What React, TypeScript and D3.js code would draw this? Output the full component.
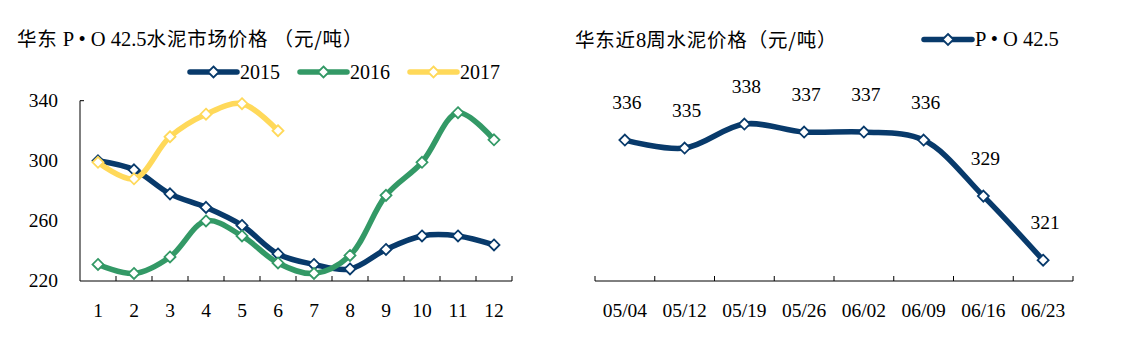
import { useEffect, useRef } from "react"
import * as d3 from "d3"

const months = ["1", "2", "3", "4", "5", "6", "7", "8", "9", "10", "11", "12"]
const y2015 = [300, 294, 278, 269, 257, 238, 231, 228, 241, 250, 250, 244]
const y2016 = [231, 225, 236, 260, 250, 232, 225, 237, 277, 299, 332, 314]
const y2017 = [299, 288, 316, 331, 338, 320]
const yTicks = [220, 260, 300, 340]

const weeks = ["05/04", "05/12", "05/19", "05/26", "06/02", "06/09", "06/16", "06/23"]
const weekly = [336, 335, 338, 337, 337, 336, 329, 321]

const NAVY = "#083a6b"
const GREEN = "#339966"
const YELLOW = "#ffd95a"
const FONT = "'Liberation Serif', 'Times New Roman', serif"
const CJK = "'Noto Sans CJK SC', sans-serif"

export default function App() {
  const ref = useRef<SVGSVGElement>(null)
  useEffect(() => {
    if (!ref.current) return
    const svg = d3.select(ref.current)
    svg.selectAll("*").remove()

    const diamond = (g: any, cx: number, cy: number, color: string) =>
      g.append("path").attr("d", `M${cx},${cy - 5.5}L${cx + 5.5},${cy}L${cx},${cy + 5.5}L${cx - 5.5},${cy}Z`)
        .attr("fill", "#fff").attr("stroke", color).attr("stroke-width", 1.8)

    // mixed title: [text, isLatin]
    const title = (g: any, x: number, y: number, parts: [string, boolean][]) => {
      const t = g.append("text").attr("x", x).attr("y", y)
      parts.forEach(([s, latin]) => t.append("tspan").style("font-family", latin ? FONT : CJK)
        .style("font-size", latin ? "20.5px" : "19.5px").style("letter-spacing", latin ? "0px" : "0.8px").text(s))
    }

    // ---------- left chart ----------
    const L = { left: 80, right: 512, top: 100.7, bottom: 281 }
    const x1 = d3.scaleBand().domain(months).range([L.left, L.right])
    const y1 = d3.scaleLinear().domain([220, 340]).range([L.bottom, L.top])
    const g1 = svg.append("g")

    title(g1, 17, 46, [["华东", false], ["\u00a0P • O 42.5", true], ["水泥市场价格 （元/吨）", false]])

    g1.append("path").attr("d", `M${L.left + 4},${L.top}H${L.left}V${L.bottom}H${L.right}`)
      .attr("fill", "none").attr("stroke", "#000").attr("stroke-width", 1)
    x1.domain().forEach(m => {
      const xx = (x1(m) as number) + x1.bandwidth()
      g1.append("line").attr("x1", xx).attr("x2", xx).attr("y1", L.bottom).attr("y2", L.bottom - 5).attr("stroke", "#000")
      g1.append("text").attr("x", (x1(m) as number) + x1.bandwidth() / 2).attr("y", 317).attr("text-anchor", "middle")
        .style("font-family", FONT).style("font-size", "19.5px").text(m)
    })
    yTicks.forEach(t => {
      g1.append("text").attr("x", 58).attr("y", y1(t) + 6).attr("text-anchor", "end")
        .style("font-family", FONT).style("font-size", "19.5px").text(t)
    })

    const line1 = d3.line<number>().x((_, i) => (x1(months[i]) as number) + x1.bandwidth() / 2).y(d => y1(d))
      .curve(d3.curveCatmullRom.alpha(0.5))
    const series = [
      { name: "2015", vals: y2015, color: NAVY },
      { name: "2016", vals: y2016, color: GREEN },
      { name: "2017", vals: y2017, color: YELLOW },
    ]
    series.forEach(s => {
      g1.append("path").datum(s.vals).attr("d", line1).attr("fill", "none").attr("stroke", s.color)
        .attr("stroke-width", 5.5).attr("stroke-linejoin", "round")
    })
    series.forEach(s => {
      s.vals.forEach((v, i) => diamond(g1, (x1(months[i]) as number) + x1.bandwidth() / 2, y1(v), s.color))
    })

    // legend
    const legX = [190, 300, 410]
    series.forEach((s, i) => {
      g1.append("line").attr("x1", legX[i]).attr("x2", legX[i] + 47).attr("y1", 72).attr("y2", 72)
        .attr("stroke", s.color).attr("stroke-width", 5.5).attr("stroke-linecap", "round")
      diamond(g1, legX[i] + 23.5, 72, s.color)
      g1.append("text").attr("x", legX[i] + 50).attr("y", 79).style("font-family", FONT).style("font-size", "20px").text(s.name)
    })

    // ---------- right chart ----------
    const R = { left: 595, right: 1073, top: 100, bottom: 281 }
    const x2 = d3.scaleBand().domain(weeks).range([R.left, R.right])
    const y2 = d3.scaleLinear().domain([318.4, 341]).range([R.bottom, R.top])
    const g2 = svg.append("g")

    title(g2, 575, 47, [["华东近", false], ["8", true], ["周水泥价格（元/吨）", false]])

    g2.append("line").attr("x1", R.left).attr("x2", R.right).attr("y1", R.bottom).attr("y2", R.bottom).attr("stroke", "#000")
    g2.append("line").attr("x1", R.left).attr("x2", R.left).attr("y1", R.bottom).attr("y2", R.bottom - 5).attr("stroke", "#000")
    weeks.forEach(w => {
      const xx = (x2(w) as number) + x2.bandwidth()
      g2.append("line").attr("x1", xx).attr("x2", xx).attr("y1", R.bottom).attr("y2", R.bottom - 5).attr("stroke", "#000")
      g2.append("text").attr("x", (x2(w) as number) + x2.bandwidth() / 2).attr("y", 317).attr("text-anchor", "middle")
        .style("font-family", FONT).style("font-size", "19.5px").text(w)
    })

    const cx2 = (i: number) => (x2(weeks[i]) as number) + x2.bandwidth() / 2
    const line2 = d3.line<number>().x((_, i) => cx2(i)).y(d => y2(d)).curve(d3.curveCatmullRom.alpha(0.5))
    g2.append("path").datum(weekly).attr("d", line2).attr("fill", "none").attr("stroke", NAVY)
      .attr("stroke-width", 5.5).attr("stroke-linejoin", "round")
    weekly.forEach((v, i) => {
      diamond(g2, cx2(i), y2(v), NAVY)
      g2.append("text").attr("x", cx2(i) + 2).attr("y", y2(v) - 31).attr("text-anchor", "middle")
        .style("font-family", FONT).style("font-size", "19.5px").text(v)
    })

    g2.append("line").attr("x1", 924).attr("x2", 972).attr("y1", 39.5).attr("y2", 39.5)
      .attr("stroke", NAVY).attr("stroke-width", 5.5).attr("stroke-linecap", "round")
    diamond(g2, 948, 39.5, NAVY)
    g2.append("text").attr("x", 975).attr("y", 46).style("font-family", FONT).style("font-size", "20.5px").text("P • O 42.5")
  }, [])
  return <svg ref={ref} width={1122} height={354} style={{ position: "absolute", left: 0, top: 0, background: "#fff" }} />
}
